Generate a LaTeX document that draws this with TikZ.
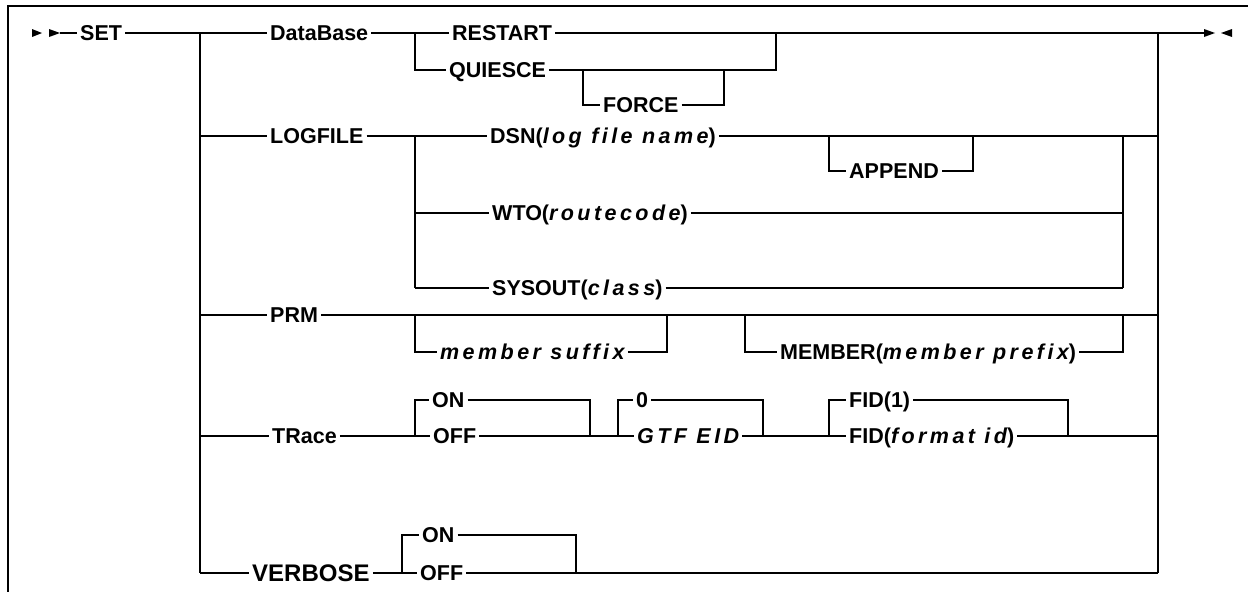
\documentclass[tikz,border=0pt]{standalone}
\usepackage{fontspec}
\setmainfont{Liberation Sans}
\newcommand{\argit}[1]{{\addfontfeatures{LetterSpace=16}\itshape #1}}
\begin{document}
\begin{tikzpicture}[x=1pt,y=-1pt,
  rail/.style={line width=1.6pt, line join=miter},
  frame/.style={line width=2pt},
  kw/.style={anchor=west, xshift=-3pt, inner xsep=3pt, inner ysep=0pt,
    text height=15pt, text depth=0pt, font=\fontsize{21.5}{24}\selectfont\bfseries},
  bigkw/.style={kw, text height=17pt, font=\fontsize{24}{28}\selectfont\bfseries},
  tip/.style={fill=black, draw=none}]
\useasboundingbox (0,0) rectangle (1248,592);
\draw[frame] (1248,6) -- (8,6) -- (8,592);

% start arrows
\fill[tip] (32,29) -- (42,33) -- (32,37) -- cycle;
\fill[tip] (49,29) -- (60,33) -- (49,37) -- cycle;
\coordinate (start) at (60,33);
% end arrows
\fill[tip] (1204,29) -- (1215,33) -- (1204,37) -- cycle;
\fill[tip] (1232,29) -- (1221,33) -- (1232,37) -- cycle;
\coordinate (finish) at (1204,33);

% nodes
\node[kw] (set) at (80,33) {SET};
\node[kw] (db) at (270,33) {DataBase};
\node[kw] (restart) at (452,33) {RESTART};
\node[kw] (quiesce) at (449,70) {QUIESCE};
\node[kw] (force) at (603,105) {FORCE};
\node[kw] (logfile) at (270,136) {LOGFILE};
\node[kw] (dsn) at (490,136) {DSN(\argit{log file name})};
\node[kw] (append) at (849,171) {APPEND};
\node[kw] (wto) at (492,213) {WTO(\argit{routecode})};
\node[kw] (sysout) at (492,288) {SYSOUT(\argit{class})};
\node[kw] (prm) at (270,315) {PRM};
\node[kw] (suffix) at (440,352) {\argit{member suffix}};
\node[kw] (member) at (780,352) {MEMBER(\argit{member prefix})};
\node[kw] (trace) at (272,436) {TRace};
\node[kw] (ton) at (432,400) {ON};
\node[kw] (toff) at (433,436) {OFF};
\node[kw] (zero) at (636,400) {0};
\node[kw] (gtf) at (637,436) {\argit{GTF EID}};
\node[kw] (fid1) at (849,400) {FID(1)};
\node[kw] (fidf) at (849,436) {FID(\argit{format id})};
\node[bigkw] (verbose) at (252,573) {VERBOSE};
\node[kw] (von) at (422,535) {ON};
\node[kw] (voff) at (420,573) {OFF};

% junctions
\coordinate (j0) at (200,33);
\coordinate (jend) at (200,573);
\coordinate (r0) at (1158,33);
\coordinate (rend) at (1158,573);

% main line
\draw[rail] (start) -- (set.west);
\draw[rail] (set.east) -- (j0) -- (jend);
\draw[rail] (r0) -- (rend);

% DataBase
\draw[rail] (j0) -- (db.west);
\draw[rail] (db.east) -- (415,33) -- (restart.west);
\draw[rail] (restart.east) -- (r0) -- (finish);
\draw[rail] (415,33) -- (415,70) -- (quiesce.west);
\draw[rail] (quiesce.east) -- (776,70) -- (776,33);
\draw[rail] (583,70) -- (583,105) -- (force.west);
\draw[rail] (force.east) -- (724,105) -- (724,70);

% LOGFILE
\draw[rail] (200,136) -- (logfile.west);
\draw[rail] (logfile.east) -- (415,136) -- (dsn.west);
\draw[rail] (dsn.east) -- (1158,136);
\draw[rail] (415,136) -- (415,288);
\draw[rail] (829,136) -- (829,171) -- (append.west);
\draw[rail] (append.east) -- (973,171) -- (973,136);
\draw[rail] (1123,136) -- (1123,288);
\draw[rail] (415,213) -- (wto.west);
\draw[rail] (wto.east) -- (1123,213);
\draw[rail] (415,288) -- (sysout.west);
\draw[rail] (sysout.east) -- (1123,288);

% PRM
\draw[rail] (200,315) -- (prm.west);
\draw[rail] (prm.east) -- (1158,315);
\draw[rail] (415,315) -- (415,352) -- (suffix.west);
\draw[rail] (suffix.east) -- (667,352) -- (667,315);
\draw[rail] (745,315) -- (745,352) -- (member.west);
\draw[rail] (member.east) -- (1123,352) -- (1123,315);

% TRace
\draw[rail] (200,436) -- (trace.west);
\draw[rail] (trace.east) -- (415,436) -- (toff.west);
\draw[rail] (toff.east) -- (618,436) -- (gtf.west);
\draw[rail] (gtf.east) -- (829,436) -- (fidf.west);
\draw[rail] (fidf.east) -- (1158,436);
\draw[rail] (415,436) -- (415,400) -- (ton.west);
\draw[rail] (ton.east) -- (590,400) -- (590,436);
\draw[rail] (618,436) -- (618,400) -- (zero.west);
\draw[rail] (zero.east) -- (763,400) -- (763,436);
\draw[rail] (829,436) -- (829,400) -- (fid1.west);
\draw[rail] (fid1.east) -- (1068,400) -- (1068,436);

% VERBOSE
\draw[rail] (jend) -- (verbose.west);
\draw[rail] (verbose.east) -- (402,573) -- (voff.west);
\draw[rail] (voff.east) -- (rend);
\draw[rail] (402,573) -- (402,535) -- (von.west);
\draw[rail] (von.east) -- (576,535) -- (576,573);
\end{tikzpicture}
\end{document}
